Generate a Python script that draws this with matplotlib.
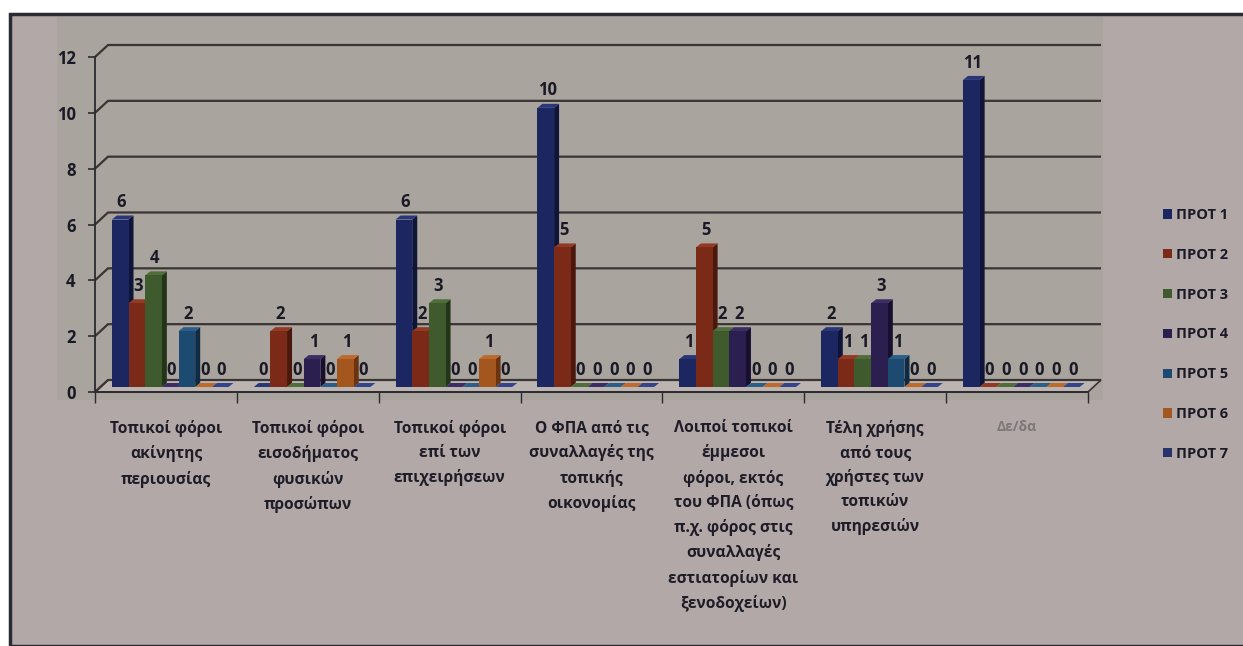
import matplotlib
matplotlib.use("Agg")
import matplotlib.pyplot as plt
import matplotlib.patches as mpatches
import numpy as np

plt.rcParams['font.family'] = ['Open Sans', 'DejaVu Sans']

categories = [
    "Τοπικοί φόροι\nακίνητης\nπεριουσίας",
    "Τοπικοί φόροι\nεισοδήματος\nφυσικών\nπροσώπων",
    "Τοπικοί φόροι\nεπί των\nεπιχειρήσεων",
    "Ο ΦΠΑ από τις\nσυναλλαγές της\nτοπικής\nοικονομίας",
    "Λοιποί τοπικοί\nέμμεσοι\nφόροι, εκτός\nτου ΦΠΑ (όπως\nπ.χ. φόρος στις\nσυναλλαγές\nεστιατορίων και\nξενοδοχείων)",
    "Τέλη χρήσης\nαπό τους\nχρήστες των\nτοπικών\nυπηρεσιών",
    "Δε/δα",
]
series_names = ["ΠΡΟΤ 1", "ΠΡΟΤ 2", "ΠΡΟΤ 3", "ΠΡΟΤ 4", "ΠΡΟΤ 5", "ΠΡΟΤ 6", "ΠΡΟΤ 7"]
prot1 = [6, 0, 6, 10, 1, 2, 11]
prot2 = [3, 2, 2, 5, 5, 1, 0]
prot3 = [4, 0, 3, 0, 2, 1, 0]
prot4 = [0, 1, 0, 0, 2, 3, 0]
prot5 = [2, 0, 0, 0, 0, 1, 0]
prot6 = [0, 1, 1, 0, 0, 0, 0]
prot7 = [0, 0, 0, 0, 0, 0, 0]
series_values = [prot1, prot2, prot3, prot4, prot5, prot6, prot7]
y_ticks = [0, 2, 4, 6, 8, 10, 12]

colors = ["#1c2660", "#7b2a18", "#3f5a2c", "#2b1f4f", "#1d4a70", "#a4561f", "#26346a"]
side_colors = ["#0f1538", "#4a180c", "#233519", "#170f2e", "#0f2a42", "#6a3410", "#141d40"]
top_colors = ["#2a3678", "#933a24", "#516e3a", "#3b2d66", "#2b5e88", "#bd6a2c", "#34448a"]

W, H = 1243, 646
fig = plt.figure(figsize=(W / 100, H / 100), dpi=100)
fig.patch.set_facecolor("white")

def fx(px):
    return px / W

def fy(py):
    return 1 - py / H

# chart frame
fig.patches.append(mpatches.Rectangle((fx(10), 0), 1 - fx(10) + 0.01, fy(14), transform=fig.transFigure,
                                      facecolor="#b2a8a7", edgecolor="#2a2a35", linewidth=2.5, zorder=-10))
# plot area
fig.patches.append(mpatches.Rectangle((fx(57), fy(400)), fx(1103) - fx(57), fy(17) - fy(400),
                                      transform=fig.transFigure, facecolor="#aaa49f", edgecolor="none", zorder=-9))

ax = fig.add_axes([fx(95), fy(392), fx(1088) - fx(95), fy(57) - fy(392)])
ax.set_zorder(1)
ax.set_facecolor("none")
ax.set_xlim(-0.5, len(categories) - 0.5)
ax.set_ylim(0, 12)

# 3D depth offsets (pixels)
GX, GY = 13, 12   # back wall
BX, BY = 5, 4     # bar depth
SY = 5            # bars sit slightly behind the front edge of the floor
ppx = (fx(1088) - fx(95)) * W / len(categories)   # px per category unit
ppy = (fy(57) - fy(392)) * H / 12                  # px per value unit
gdx, gdy = GX / ppx, GY / ppy
bdx, bdy = BX / ppx, BY / ppy
sy = SY / ppy

x = np.arange(len(categories))
xl, xr = -0.5, len(categories) - 0.5

# floor
ax.add_patch(mpatches.Polygon([(xl, 0), (xr, 0), (xr + gdx, gdy), (xl + gdx, gdy)], closed=True,
                              facecolor="#bcb4b1", edgecolor="#3a3535", linewidth=1.2, clip_on=False, zorder=1))
# gridlines (back wall)
for v in y_ticks:
    ax.plot([xl, xl + gdx, xr + gdx], [v, v + gdy, v + gdy], color="#3a3535", linewidth=1.6,
            clip_on=False, zorder=1, solid_capstyle="butt")

bw = 0.1175
offsets = [(i - 3) * bw + 0.03 for i in range(len(series_names))]
handles = []
for ci in range(len(categories)):
    for si, vals in enumerate(series_values):
        v = vals[ci]
        xc = x[ci] + offsets[si]
        x0, x1 = xc - bw / 2, xc + bw / 2
        b0, b1 = sy, sy + v
        z = 3 + si * 0.1 + ci * 0.01
        ax.add_patch(mpatches.Polygon([(x1, b0), (x1, b1), (x1 + bdx, b1 + bdy), (x1 + bdx, b0 + bdy)], closed=True,
                                      facecolor=side_colors[si], edgecolor="none", zorder=z, clip_on=False))
        ax.add_patch(mpatches.Polygon([(x0, b1), (x1, b1), (x1 + bdx, b1 + bdy), (x0 + bdx, b1 + bdy)], closed=True,
                                      facecolor=top_colors[si], edgecolor="none", zorder=z, clip_on=False))
        b = ax.bar(xc, v, width=bw, bottom=b0, color=colors[si], zorder=z, clip_on=False, edgecolor="none")
        if ci == 0:
            handles.append(b)
        ax.annotate(str(v), (xc, b1), xytext=(1, 12.5), textcoords="offset points", ha="center", va="center",
                    fontsize=12, fontweight="bold", color="#1a1a26", zorder=10, annotation_clip=False)

# axes styling
for s in ["top", "right"]:
    ax.spines[s].set_visible(False)
ax.spines["left"].set_color("#2a2a30")
ax.spines["left"].set_linewidth(1.3)
ax.spines["bottom"].set_color("#2a2a30")
ax.spines["bottom"].set_linewidth(1.3)
ax.spines["bottom"].set_zorder(2)
ax.set_yticks(y_ticks)
ax.set_yticklabels([str(t) for t in y_ticks], fontsize=12, fontweight="bold", color="#1a1a26")
ax.tick_params(axis="y", length=5, width=1.2, color="#2a2a30", pad=9)
ax.set_xticks(x)
ax.set_xticklabels(categories, fontsize=11.2, fontweight="bold", color="#1e1c26", linespacing=1.65, va="top")
ax.set_xticks(np.arange(len(categories) + 1) - 0.5, minor=True)
ax.tick_params(axis="x", which="major", length=0, pad=20)
ax.tick_params(axis="x", which="minor", length=8, width=1.0, color="#2a2a30")
ax.get_xticklabels()[-1].set_color("#7d7779")
ax.get_xticklabels()[-1].set_fontsize(10)

leg = fig.legend(handles, series_names, loc="center left", bbox_to_anchor=(fx(1150), fy(334.5)), frameon=False,
                 handlelength=0.6, handleheight=0.6, handletextpad=0.3, labelspacing=1.77,
                 prop={"size": 10.5, "weight": "bold"})
for t in leg.get_texts():
    t.set_color("#1a1a26")

fig.savefig("out.png", dpi=100, facecolor=fig.get_facecolor())
